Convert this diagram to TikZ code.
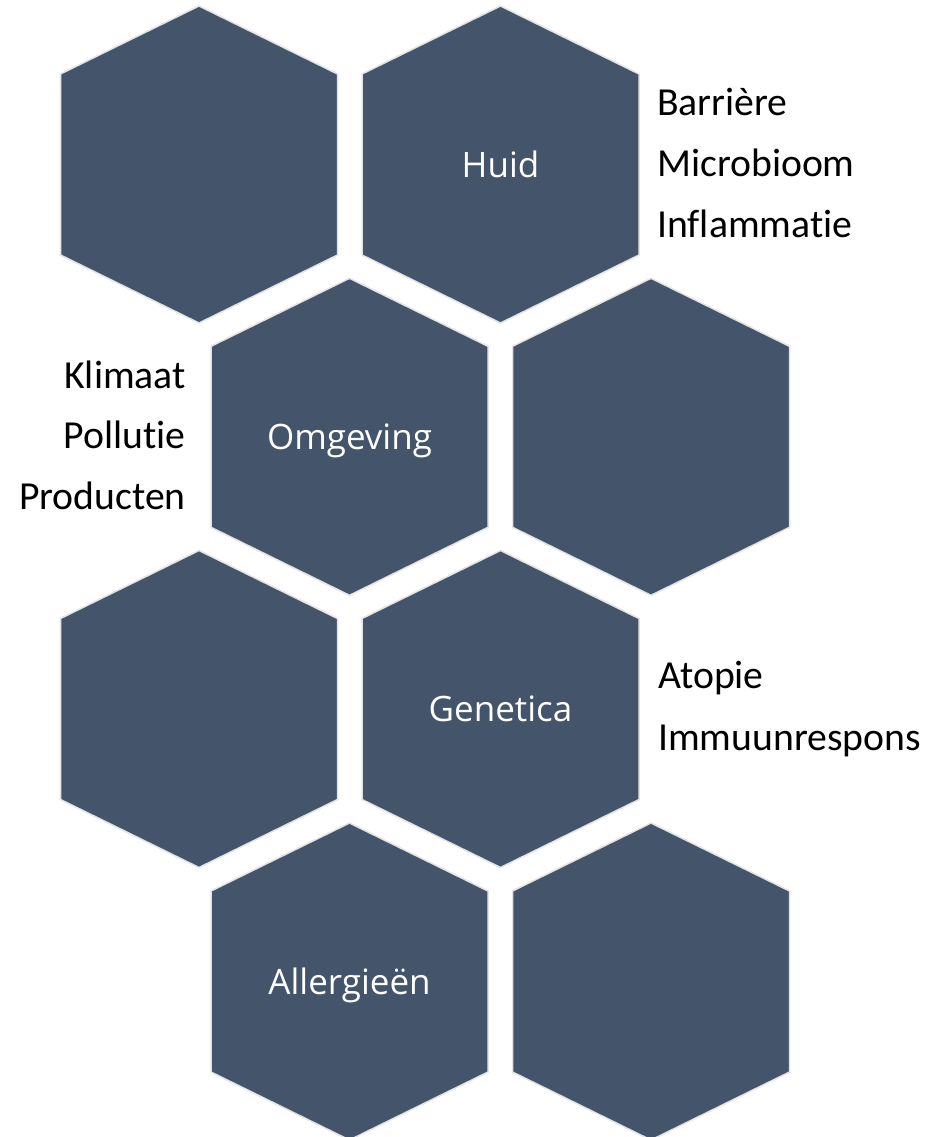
\documentclass[tikz,border=0pt]{standalone}
\usepackage{fontspec}
\setmainfont{Carlito}[RawFeature={-liga;-clig}]
\newfontfamily\labelfont{Open Sans}
\definecolor{hexblue}{HTML}{44546A}
\definecolor{hexedge}{HTML}{E3E3E3}
\tikzset{
  hexshape/.style={fill=hexblue, draw=hexedge, line width=1.5pt, line join=miter},
  hexagon/.pic={\path[hexshape] (0,-158.5) -- (138.5,-90.5) -- (138.5,90.5) -- (0,158.5) -- (-138.5,90.5) -- (-138.5,-90.5) -- cycle;},
  hexlabel/.style={anchor=base, inner sep=0pt, text=white, font=\labelfont\fontsize{35}{42}\selectfont},
  listtext/.style={inner sep=0pt, text=black, font=\fontsize{39.7}{48}\selectfont}
}
\begin{document}
\begin{tikzpicture}[x=1pt,y=-1pt]
\useasboundingbox (0,0) rectangle (933,1137);
% row 1
\pic (hA) at (199,164.5) {hexagon};
\pic (hB) at (500.5,164.5) {hexagon};
% row 2
\pic (hC) at (349.5,436.8) {hexagon};
\pic (hD) at (651,436.8) {hexagon};
% row 3
\pic (hE) at (199,709) {hexagon};
\pic (hF) at (500.5,709) {hexagon};
% row 4
\pic (hG) at (349.5,981.5) {hexagon};
\pic (hH) at (651,981.5) {hexagon};
% labels
\node[hexlabel] (huid) at (500.5,177.5) {Huid};
\node[hexlabel] (omgeving) at (349.5,449.5) {Omgeving};
\node[hexlabel] (genetica) at (500.5,721.5) {Genetica};
\node[hexlabel] (allergie) at (349.5,994) {Allergieën};
% list Huid
\node[listtext, anchor=base west] (barr) at (657,116) {Barrière};
\node[listtext, anchor=base west] (micro) at (657,176.7) {Microbioom};
\node[listtext, anchor=base west] (infl) at (657,237) {Inflammatie};
% list Omgeving
\node[listtext, anchor=base east] (klim) at (186,388) {Klimaat};
\node[listtext, anchor=base east] (poll) at (186,448.5) {Pollutie};
\node[listtext, anchor=base east] (prod) at (186,509) {Producten};
% list Genetica
\node[listtext, anchor=base west] (atop) at (658,688.5) {Atopie};
\node[listtext, anchor=base west] (immu) at (658,750) {Immuunrespons};
\end{tikzpicture}
\end{document}
